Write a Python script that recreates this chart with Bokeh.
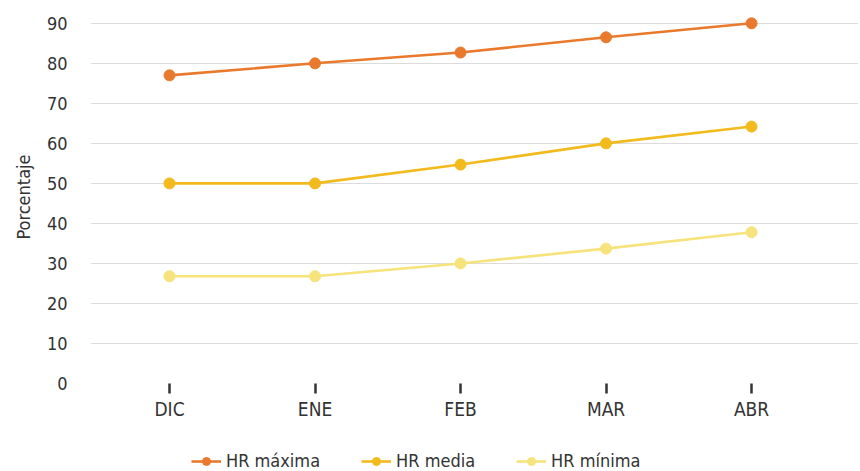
from bokeh.plotting import figure
from bokeh.models import Range1d, FixedTicker, Legend, LegendItem
from bokeh.layouts import column
from bokeh.embed import file_html
from bokeh.resources import INLINE

months = ["DIC", "ENE", "FEB", "MAR", "ABR"]
hr_max = [77, 80, 82.7, 86.5, 90]
hr_media = [50, 50, 54.7, 60, 64.2]
hr_min = [26.8, 26.8, 30, 33.7, 37.8]
y_ticks = [0, 10, 20, 30, 40, 50, 60, 70, 80, 90]

series = [
    ("HR máxima", hr_max, "#E9792C"),
    ("HR media", hr_media, "#F2BA1C"),
    ("HR mínima", hr_min, "#F6E37C"),
]

FONT = "DejaVu Sans Condensed"
TXT = "#333333"

xs = list(range(len(months)))

p = figure(width=860, height=425, output_backend="svg", toolbar_location=None,
           x_range=Range1d(-0.543, 4.735), y_range=Range1d(0, 93.2),
           min_border_left=90, min_border_right=2, min_border_top=10, min_border_bottom=42)
p.outline_line_color = None
p.background_fill_color = "white"
p.border_fill_color = "white"

for name, vals, col in series:
    p.line(xs, vals, line_color=col, line_width=2.6)
    p.scatter(xs, vals, size=11, fill_color=col, line_color=col)

p.xgrid.grid_line_color = None
p.ygrid.grid_line_color = "#dcdcdc"
p.ygrid.grid_line_width = 1
p.ygrid.ticker = FixedTicker(ticks=y_ticks)

ya = p.yaxis[0]
ya.ticker = FixedTicker(ticks=y_ticks)
ya.axis_line_color = None
ya.major_tick_line_color = None
ya.minor_tick_line_color = None
ya.major_label_standoff = 17
ya.major_label_text_font = FONT
ya.major_label_text_font_size = "18px"
ya.major_label_text_color = TXT
ya.axis_label = "Porcentaje"
ya.axis_label_text_font = FONT
ya.axis_label_text_font_size = "18px"
ya.axis_label_text_font_style = "normal"
ya.axis_label_text_color = TXT
ya.axis_label_standoff = 10

xa = p.xaxis[0]
xa.ticker = FixedTicker(ticks=xs)
xa.major_label_overrides = {i: m for i, m in zip(xs, months)}
xa.axis_line_color = None
xa.minor_tick_line_color = None
xa.major_tick_line_color = "#333333"
xa.major_tick_line_width = 2.5
xa.major_tick_in = 0
xa.major_tick_out = 10
xa.major_label_standoff = 4
xa.major_label_text_font = FONT
xa.major_label_text_font_size = "19px"
xa.major_label_text_color = TXT

# legend strip below the chart (its renderers sit outside the visible range)
lg = figure(width=860, height=46, output_backend="svg", toolbar_location=None,
            x_range=Range1d(100, 101), y_range=Range1d(0, 1),
            min_border=0, x_axis_type=None, y_axis_type=None)
lg.outline_line_color = None
lg.xgrid.grid_line_color = None
lg.ygrid.grid_line_color = None
items = []
for name, vals, col in series:
    r1 = lg.line(xs, vals, line_color=col, line_width=2.6)
    r2 = lg.scatter(xs, vals, size=11, fill_color=col, line_color=col)
    items.append(LegendItem(label=name, renderers=[r1, r2]))

legend = Legend(items=items, orientation="horizontal", location=(101, 0),
                label_text_font=FONT, label_text_font_size="18px",
                label_text_color=TXT, glyph_width=30, glyph_height=20,
                label_standoff=5, spacing=41, padding=0, margin=0,
                border_line_color=None, background_fill_alpha=0)
lg.add_layout(legend, "center")

layout = column(p, lg, spacing=0)
open("out.html", "w").write(file_html(layout, INLINE))
